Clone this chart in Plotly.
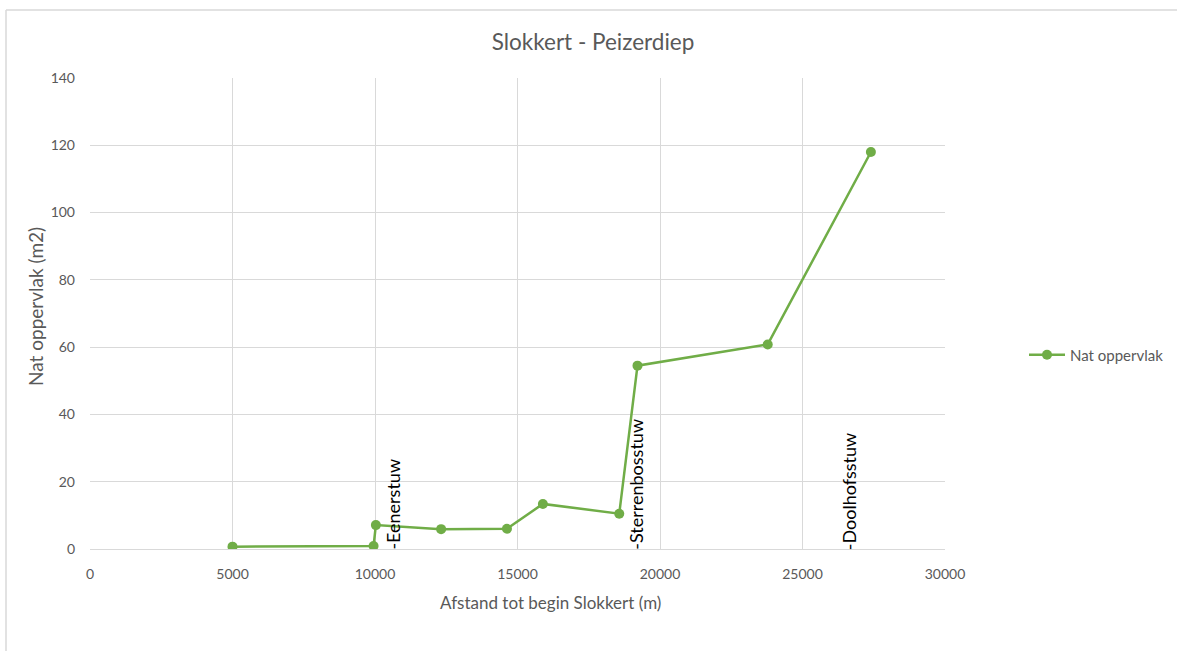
import plotly.graph_objects as go

# Distance from the start of the Slokkert (m) and wetted cross-section (m2)
afstand = [5000, 9950, 10030, 12320, 14630, 15890, 18570, 19210, 23780, 27400]
nat_oppervlak = [0.7, 0.9, 7.1, 5.9, 6.0, 13.4, 10.5, 54.5, 60.8, 118.0]

# Weirs along the stream
stuw_namen = ["-Eenerstuw", "-Sterrenbosstuw", "-Doolhofsstuw"]
stuw_afstand = [10600, 19130, 26640]

grey = "#595959"
grid = "#d9d9d9"
green = "#70AD47"
font = "Lato, 'Open Sans', sans-serif"

# Plot area in pixels: left 90, right 945, top 78, bottom 549
PL, PW, PB, PH = 90, 855, 549, 471


def px(x):
    return (x - PL) / PW


def py(y):
    return (PB - y) / PH


fig = go.Figure()
fig.add_trace(go.Scatter(
    x=afstand, y=nat_oppervlak, mode="lines+markers", name="Nat oppervlak",
    line=dict(color=green, width=2.5),
    marker=dict(color=green, size=10),
))

for naam, x in zip(stuw_namen, stuw_afstand):
    fig.add_annotation(
        x=x, y=0, xref="x", yref="y", text=naam, textangle=-90,
        showarrow=False, xanchor="center", yanchor="bottom", yshift=-3,
        font=dict(family=font, size=18, color="#000000"),
    )

# Axis titles
fig.add_annotation(
    x=px(550), y=py(602), xref="paper", yref="paper",
    text="Afstand tot begin Slokkert (m)", showarrow=False,
    xanchor="center", yanchor="middle", font=dict(size=17, color=grey),
)
fig.add_annotation(
    x=px(35), y=py(307), xref="paper", yref="paper",
    text="Nat oppervlak (m2)", showarrow=False, textangle=-90,
    xanchor="center", yanchor="middle", font=dict(size=19, color=grey),
)

# Chart area frame
fig.add_shape(type="line", xref="paper", yref="paper",
              x0=px(6), x1=px(1200), y0=py(10), y1=py(10),
              line=dict(color=grid, width=1.5))
fig.add_shape(type="line", xref="paper", yref="paper",
              x0=px(6), x1=px(6), y0=py(10), y1=py(700),
              line=dict(color=grid, width=1.5))

fig.update_layout(
    width=1177, height=651,
    margin=dict(l=90, r=232, t=78, b=102),
    paper_bgcolor="white", plot_bgcolor="white",
    font=dict(family=font, color=grey, size=14),
    title=dict(text="Slokkert - Peizerdiep", x=593 / 1177, xanchor="center",
               y=1 - 42 / 651, yanchor="middle",
               font=dict(family=font, size=22.5, color=grey)),
    xaxis=dict(range=[0, 30000], dtick=5000, tick0=0, tickformat="d",
               showgrid=True, gridcolor=grid, gridwidth=1, zeroline=False,
               showline=True, linecolor=grid, linewidth=1,
               ticks="", ticklabelstandoff=12,
               tickfont=dict(size=14, color=grey)),
    yaxis=dict(range=[0, 140], dtick=20, tick0=0, tickformat="d",
               showgrid=True, gridcolor=grid, gridwidth=1, zeroline=False,
               showline=False, ticks="", ticklabelstandoff=14,
               tickfont=dict(size=14, color=grey)),
    showlegend=True,
    legend=dict(x=1024 / 1177, xref="container", y=1 - 355 / 651, yref="container",
                xanchor="left", yanchor="middle", bgcolor="rgba(0,0,0,0)",
                itemwidth=36, font=dict(size=15, color=grey)),
)

fig.write_html("out.html")
